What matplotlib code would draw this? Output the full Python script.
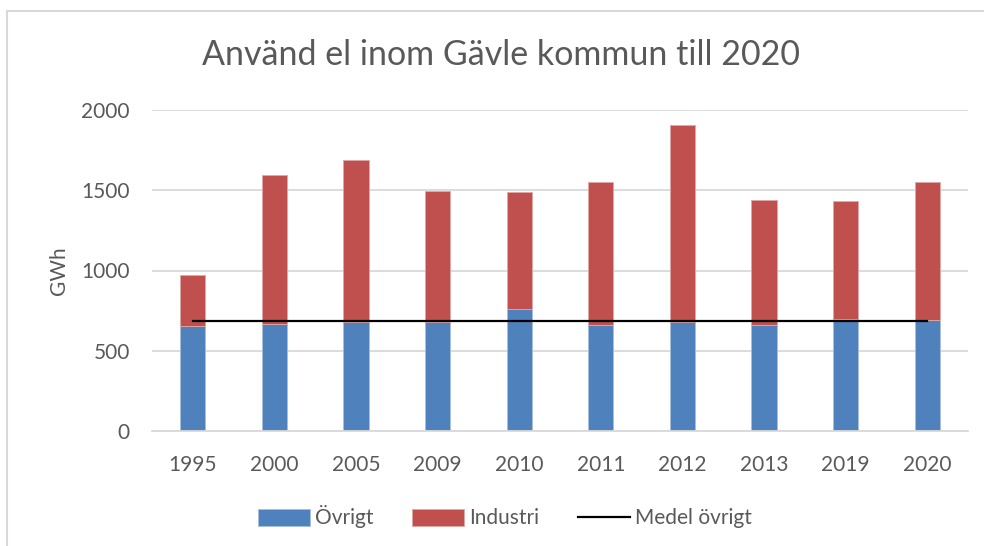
import matplotlib
matplotlib.use("Agg")
import matplotlib.pyplot as plt
from matplotlib.lines import Line2D
import numpy as np

plt.rcParams['font.family'] = ['Lato', 'DejaVu Sans']

years = ["1995", "2000", "2005", "2009", "2010", "2011", "2012", "2013", "2019", "2020"]
ovrigt = [652, 665, 681, 681, 762, 658, 679, 658, 696, 692]
industri = [319, 927, 1006, 815, 726, 894, 1230, 780, 736, 862]
medel = [float(np.mean(ovrigt))] * len(years)

title = "Använd el inom Gävle kommun till 2020"
ylabel = "GWh"
yticks = [0, 500, 1000, 1500, 2000]

blue = "#4f81bd"
red = "#c0504d"
txt = "#595959"
grid = "#d9d9d9"

fig = plt.figure(figsize=(9.84, 5.46), dpi=100)
ax = fig.add_axes([152/984, 1-431/546, 816/984, 321/546])

x = np.arange(len(years))
w = 0.31
b1 = ax.bar(x, ovrigt, w, color=blue, edgecolor="#a7c0de", linewidth=0.6, label="Övrigt", zorder=2)
b2 = ax.bar(x, industri, w, bottom=ovrigt, color=red, edgecolor="#e0a8a6", linewidth=0.6, label="Industri", zorder=2)
l1, = ax.plot(x, medel, color="black", linewidth=1.6, label="Medel övrigt", zorder=3)

ax.set_xlim(-0.5, len(years) - 0.5)
ax.set_ylim(0, 2000)
ax.set_yticks(yticks)
ax.set_yticklabels([str(t) for t in yticks])
ax.set_xticks(x)
ax.set_xticklabels(years)
ax.yaxis.grid(True, color=grid, linewidth=1.3, zorder=0)
ax.set_axisbelow(True)
for s in ["top", "right", "left"]:
    ax.spines[s].set_visible(False)
ax.spines["bottom"].set_color(grid)
ax.spines["bottom"].set_linewidth(1.3)
ax.tick_params(axis="both", length=0, labelsize=15, labelcolor=txt)
ax.tick_params(axis="x", pad=17)
ax.tick_params(axis="y", pad=16)
ax.set_ylabel(ylabel, fontsize=15, color=txt, labelpad=9)

fig.text(501/984, 1-55/546, title, ha="center", va="center", fontsize=24.5, color=txt)

leg = fig.legend([b1, b2, l1], ["Övrigt", "Industri", "Medel övrigt"],
                 loc="center", bbox_to_anchor=(505/984, 1-517/546), ncol=3, frameon=False,
                 fontsize=15, labelcolor=txt, handlelength=2.5, handleheight=0.85,
                 columnspacing=1.85, handletextpad=0.25)

fig.add_artist(Line2D([7/984, 7/984], [0, 1-11/546], transform=fig.transFigure, color=grid, linewidth=1.5))
fig.add_artist(Line2D([7/984, 1], [1-11/546, 1-11/546], transform=fig.transFigure, color=grid, linewidth=1.5))

fig.savefig("out.png", dpi=100)
